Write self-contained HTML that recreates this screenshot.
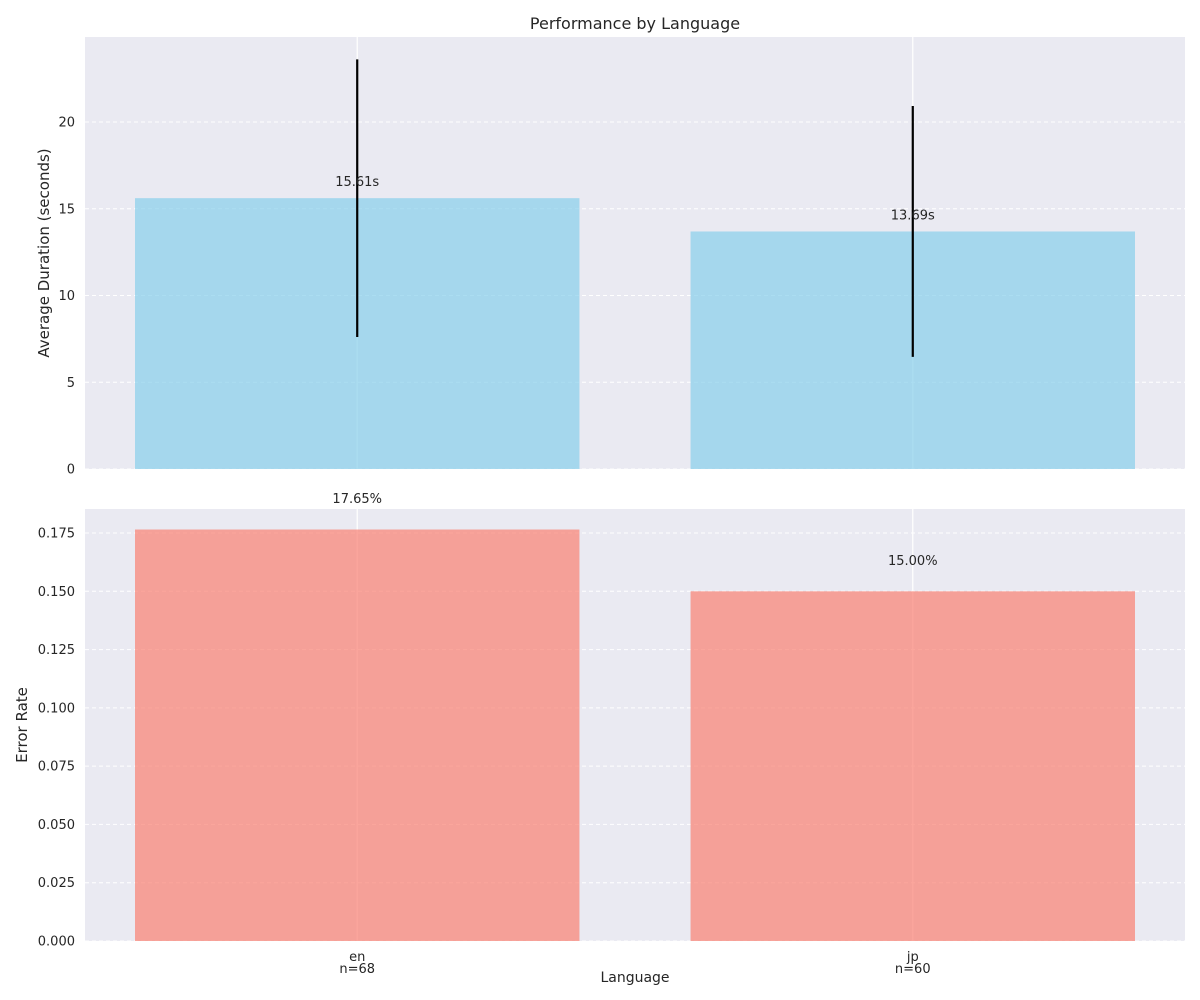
<!DOCTYPE html>
<html><head><meta charset="utf-8"><style>
body{margin:0;background:#fff;}
svg{display:block;font-family:"DejaVu Sans","Liberation Sans",sans-serif;}
</style></head><body>
<svg id="chart" width="1200" height="1000"></svg>
<script>
const categories=["en","jp"];
const counts=[68,60];
const durations=[15.61,13.69];
const durationStd=[8.0,7.23];
const errorRates=[0.1765,0.15];
const durTicks=[0,5,10,15,20];
const errTicks=[0,0.025,0.05,0.075,0.1,0.125,0.15,0.175];

const NS="http://www.w3.org/2000/svg";
const svg=document.getElementById('chart');
function mk(tag,attrs,parent,text){const e=document.createElementNS(NS,tag);for(const k in attrs)e.setAttribute(k,attrs[k]);if(text!==undefined)e.textContent=text;(parent||svg).appendChild(e);return e;}
const L=85,R=1185;
const xScale=v=>L+(v+0.49)*(R-L)/1.98;
const bw=0.8*(R-L)/1.98;

function panel(top,bottom,ymax,vals,color,name,ticks,fmt){
  const y=v=>bottom-v*(bottom-top)/ymax;
  const g=mk('g',{});
  
  
  const bg=mk('rect',{x:L,y:top,width:R-L,height:bottom-top,fill:'#eaeaf2'},g);
  
  
  ticks.forEach(t=>{
    const ln=mk('line',{x1:L,x2:R,y1:y(t),y2:y(t),stroke:'#fff','stroke-dasharray':'4,3','stroke-width':1},g);
    
    
    const tx=mk('text',{x:L-10,y:y(t)+4.5,'text-anchor':'end','font-size':13,fill:'#262626'},g,fmt(t));
    
    
  });
  categories.forEach((c,i)=>{
    const vl=mk('line',{x1:xScale(i),x2:xScale(i),y1:top,y2:bottom,stroke:'#fff','stroke-width':1.2},g);
    
    
  });
  vals.forEach((v,i)=>{
    const b=mk('rect',{x:xScale(i)-bw/2,y:y(v),width:bw,height:bottom-y(v),fill:color,'fill-opacity':0.7},g);
    
    
  });
  return y;
}
const yT=panel(37,469,24.9,durations,'#87ceeb','duration',durTicks,t=>String(t));
durations.forEach((v,i)=>{
  const e=mk('line',{x1:xScale(i),x2:xScale(i),y1:yT(v+durationStd[i]),y2:yT(v-durationStd[i]),stroke:'#000','stroke-width':2.2});
  
  
  const t=mk('text',{x:xScale(i),y:yT(v)-12,'text-anchor':'middle','font-size':13,fill:'#262626'},svg,v.toFixed(2)+'s');
  
  
});
const yB=panel(509,941,0.1853,errorRates,'#fa8072','error-rate',errTicks,t=>t.toFixed(3));
errorRates.forEach((v,i)=>{
  const t=mk('text',{x:xScale(i),y:yB(v+0.01)-3,'text-anchor':'middle','font-size':13,fill:'#262626'},svg,(v*100).toFixed(2)+'%');
  
  
  const a=mk('text',{x:xScale(i),y:961,'text-anchor':'middle','font-size':13,fill:'#262626'},svg,categories[i]);
  
  
  const n=mk('text',{x:xScale(i),y:973,'text-anchor':'middle','font-size':13,fill:'#262626'},svg,'n='+counts[i]);
  
  
});
const title=mk('text',{x:635,y:29,'text-anchor':'middle','font-size':16,fill:'#262626'},svg,'Performance by Language');


const xl=mk('text',{x:635,y:982,'text-anchor':'middle','font-size':14,fill:'#262626'},svg,'Language');


const yl1=mk('text',{x:0,y:0,'text-anchor':'middle','font-size':15,fill:'#262626',transform:'translate(49,253) rotate(-90)'},svg,'Average Duration (seconds)');


const yl2=mk('text',{x:0,y:0,'text-anchor':'middle','font-size':15,fill:'#262626',transform:'translate(27,725) rotate(-90)'},svg,'Error Rate');


</script>
</body></html>
